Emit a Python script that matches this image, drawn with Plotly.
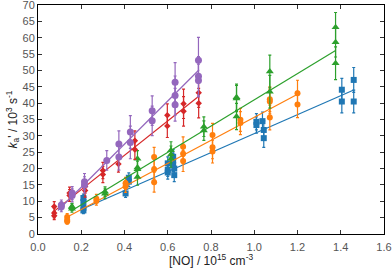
import plotly.graph_objects as go

# ---- data ----
blue_x = [0.21, 0.21, 0.21, 0.21, 0.405, 0.42, 0.42, 0.60, 0.60, 0.60, 0.625, 0.625, 0.625, 0.63, 0.63,
          1.01, 1.01, 1.038, 1.044, 1.044, 1.405, 1.405, 1.46, 1.46]
blue_y = [11.0, 9.8, 8.0, 7.2, 12.4, 17.2, 16.0, 21.6, 19.6, 18.8, 23.6, 22.5, 21.1, 18.0, 20.0,
          34.3, 33.3, 34.5, 31.8, 29.3, 44.1, 40.5, 47.1, 40.5]
blue_e = [1.2, 1.2, 1.0, 1.0, 1.2, 1.5, 1.5, 2.0, 2.0, 2.0, 2.2, 2.2, 2.0, 2.0, 2.0,
          2.5, 2.5, 2.8, 2.8, 2.8, 3.5, 3.5, 3.8, 3.5]

orange_x = [0.135, 0.135, 0.135, 0.27, 0.27, 0.405, 0.405, 0.537, 0.537, 0.537, 0.671, 0.671, 0.671,
            0.807, 0.807, 0.807, 0.936, 0.936, 1.072, 1.072, 1.072, 1.2, 1.2]
orange_y = [5.2, 4.3, 3.8, 10.8, 10.1, 15.5, 14.5, 23.5, 19.8, 15.8, 26.7, 24.5, 22.3,
            30.3, 25.2, 26.5, 34.9, 33.9, 41.2, 40.5, 35.6, 43.0, 39.6]
orange_e = [1.0, 1.0, 0.8, 1.3, 1.3, 1.8, 1.8, 3.0, 3.0, 3.0, 3.0, 3.0, 3.2,
            3.5, 3.5, 3.5, 3.5, 3.5, 3.8, 3.8, 3.8, 4.0, 4.0]

green_x = [0.157, 0.157, 0.157, 0.31, 0.31, 0.46, 0.46, 0.46, 0.46, 0.615, 0.615, 0.615,
           0.767, 0.767, 0.918, 0.918, 0.918, 1.072, 1.072, 1.376, 1.376, 1.376]
green_y = [8.4, 7.7, 8.2, 12.9, 12.3, 23.0, 20.3, 19.8, 17.4, 25.6, 24.3, 23.0,
           32.8, 31.6, 41.8, 41.4, 35.9, 49.7, 43.5, 63.2, 58.6, 52.2]
green_e = [1.0, 1.0, 1.0, 1.5, 1.5, 2.5, 2.5, 2.5, 2.5, 2.6, 2.6, 2.6,
           3.0, 3.0, 4.0, 4.0, 4.0, 5.0, 5.0, 4.5, 4.5, 5.0]

red_x = [0.075, 0.075, 0.075, 0.146, 0.146, 0.218, 0.218, 0.30, 0.30, 0.372, 0.448, 0.448,
         0.598, 0.598, 0.673, 0.673, 0.743, 0.743]
red_y = [8.4, 6.4, 5.6, 11.8, 12.5, 14.5, 13.3, 19.4, 18.2, 21.4, 28.5, 25.8,
         36.3, 33.0, 39.8, 37.5, 43.2, 40.0]
red_e = [1.5, 1.5, 1.2, 1.8, 1.8, 2.0, 2.0, 2.5, 2.5, 2.5, 3.0, 3.0,
         3.5, 3.5, 4.5, 4.5, 4.5, 4.5]

purple_x = [0.108, 0.108, 0.158, 0.158, 0.215, 0.215, 0.318, 0.374, 0.374, 0.427, 0.427,
            0.528, 0.528, 0.634, 0.634, 0.634, 0.742, 0.742, 0.742]
purple_y = [8.9, 8.3, 12.5, 11.8, 16.0, 15.0, 22.5, 27.5, 23.5, 31.2, 28.0,
            37.7, 34.6, 46.4, 42.3, 39.5, 53.1, 48.2, 46.9]
purple_e = [1.5, 1.5, 2.0, 2.0, 2.5, 2.5, 3.0, 4.0, 4.0, 5.0, 5.0,
            4.5, 4.5, 6.0, 6.0, 5.0, 7.0, 6.0, 5.0]

# fitted lines: [x_start, x_end], [y_start, y_end]
blue_fit_x, blue_fit_y = [0.20, 1.46], [7.5, 44.0]
orange_fit_x, orange_fit_y = [0.135, 1.20], [5.2, 42.7]
green_fit_x, green_fit_y = [0.155, 1.376], [7.1, 56.1]
red_fit_x, red_fit_y = [0.075, 0.745], [7.0, 42.2]
purple_fit_x, purple_fit_y = [0.092, 0.745], [7.2, 50.2]

x_ticks = [0.0, 0.2, 0.4, 0.6, 0.8, 1.0, 1.2, 1.4, 1.6]
y_ticks = [0, 5, 10, 15, 20, 25, 30, 35, 40, 45, 50, 55, 60, 65, 70]

series = [
    (blue_x, blue_y, blue_e, blue_fit_x, blue_fit_y, "#1f77b4", "square", 6),
    (orange_x, orange_y, orange_e, orange_fit_x, orange_fit_y, "#ff7f0e", "circle", 6),
    (green_x, green_y, green_e, green_fit_x, green_fit_y, "#2ca02c", "triangle-up", 7),
    (red_x, red_y, red_e, red_fit_x, red_fit_y, "#d62728", "diamond", 5),
    (purple_x, purple_y, purple_e, purple_fit_x, purple_fit_y, "#9467bd", "circle", 7),
]

fig = go.Figure()
for xs, ys, es, fx, fy, col, sym, sz in series:
    fig.add_trace(go.Scatter(
        x=xs, y=ys, mode="markers",
        marker=dict(color=col, symbol=sym, size=sz, line=dict(width=0)),
        error_y=dict(type="data", array=es, visible=True, color=col, thickness=1.2, width=1.5),
        showlegend=False, cliponaxis=False,
    ))
    fig.add_trace(go.Scatter(
        x=fx, y=fy, mode="lines", line=dict(color=col, width=1.2), showlegend=False,
    ))

FONT = "Liberation Sans, Arial, sans-serif"
axis_common = dict(
    showline=True, linecolor="black", linewidth=1, mirror="ticks",
    ticks="inside", ticklen=4, tickcolor="#333", showgrid=False, zeroline=False,
    automargin=False, ticklabeloverflow="allow",
    tickfont=dict(family=FONT, size=11, color="#555"),
)

fig.update_layout(
    width=392, height=268,
    margin=dict(l=38, r=8, t=5, b=34, autoexpand=False),
    paper_bgcolor="white", plot_bgcolor="white",
    xaxis=dict(range=[0, 1.6], tickvals=x_ticks, tickformat=".1f", ticklabelstandoff=3,
               title=dict(text="[NO] / 10<sup>15</sup> cm<sup>-3</sup>", standoff=3,
                          font=dict(family=FONT, size=12, color="#222")),
               **axis_common),
    yaxis=dict(range=[0, 70], tickvals=y_ticks,
               title=dict(text="<i>k</i><sub>a</sub>' / 10<sup>3</sup> s<sup>-1</sup>", standoff=2,
                          font=dict(family=FONT, size=12, color="#222")),
               **axis_common),
)

fig.write_html("out.html", config={"displayModeBar": False},
               post_script="document.body.style.margin='0';document.body.style.overflow='hidden';")
